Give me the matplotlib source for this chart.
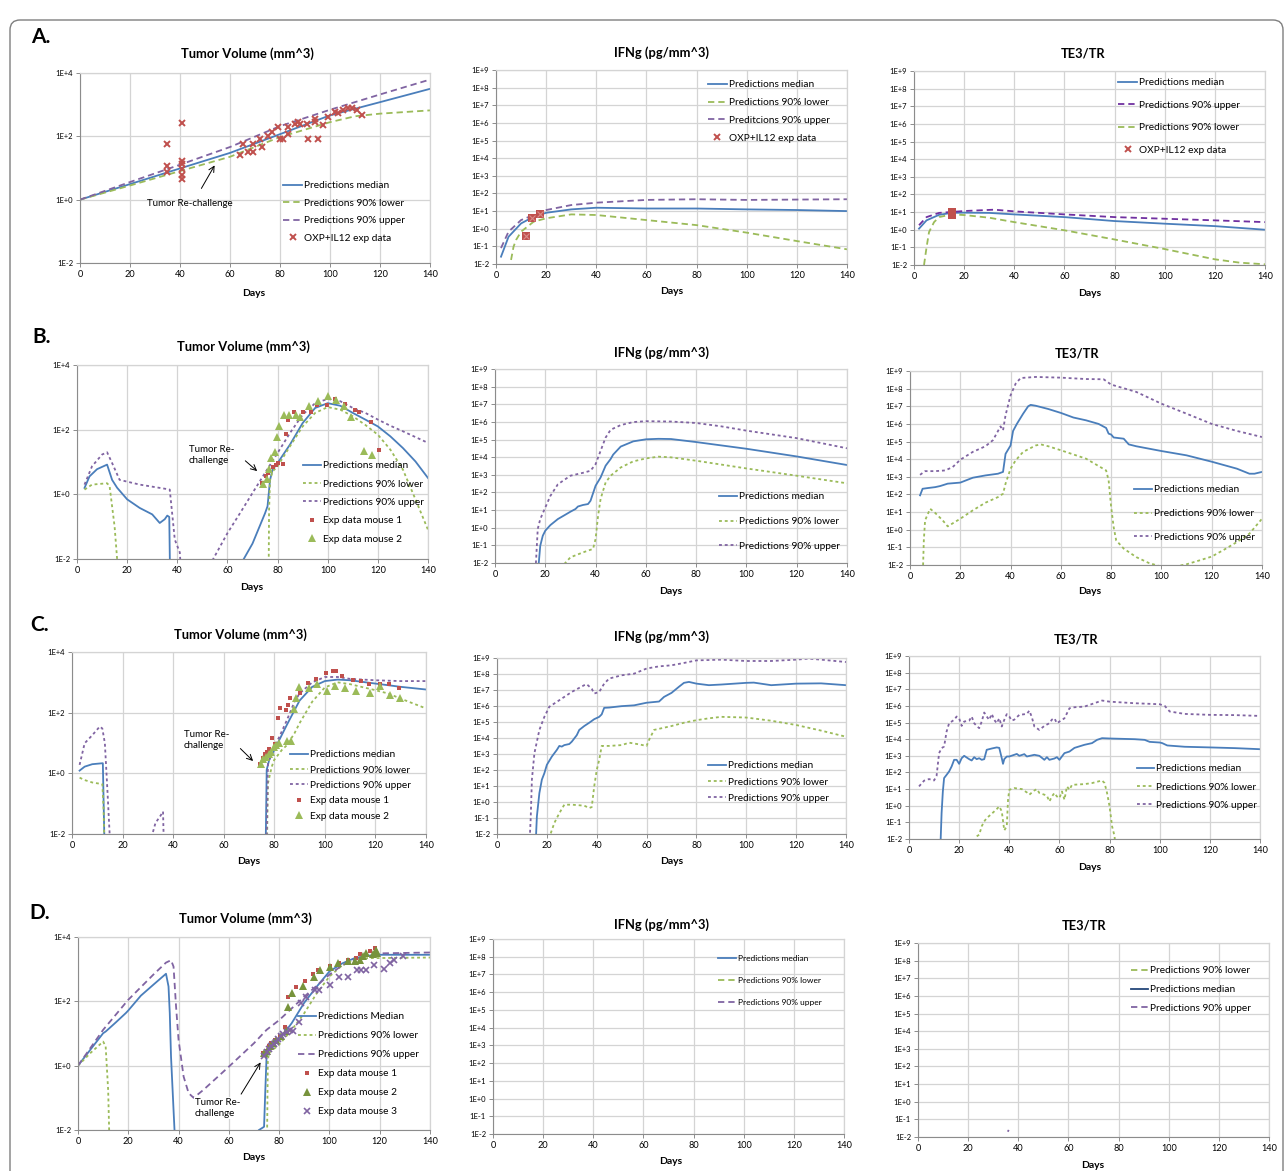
import numpy as np
import matplotlib
matplotlib.use("Agg")
import matplotlib.pyplot as plt
from matplotlib.patches import FancyBboxPatch
from matplotlib.ticker import FuncFormatter, NullLocator
from matplotlib.transforms import IdentityTransform

plt.rcParams["font.family"] = ["Lato", "DejaVu Sans"]

nan = np.nan

# ---------------- A: OXP + IL12 ----------------
A_TV_DAY = [0, 20, 40, 60, 80, 100, 120, 140]
A_TV_MED = [1, 3.1, 9.7, 30, 117, 460, 1200, 3160]
A_TV_UP = [1, 3.6, 12.7, 46, 210, 690, 2100, 6200]
A_TV_LO_DAY = [0, 20, 40, 60, 80, 100, 110, 120, 140]
A_TV_LO = [1, 2.8, 8, 22.6, 95, 280, 430, 520, 660]
A_TV_EXP_DAY = [34.7, 40.7, 34.7, 34.7, 40.7, 40.7, 40.7, 40.7, 40.7, 64, 65, 67.3,
                69.3, 69.3, 72.7, 72, 75.3, 76.7, 79.3, 80, 81, 83.3, 83.3, 86, 87,
                88, 90.7, 91.3, 94, 94, 95.3, 97.3, 99.3, 102, 103.3, 105.3, 107.3,
                108.7, 110.7, 112.7]
A_TV_EXP = [56, 270, 11.5, 7.5, 17, 13, 9.5, 5.9, 4.6, 26, 56, 32, 32, 56, 46, 85,
            100, 138, 200, 85, 85, 120, 200, 250, 280, 250, 250, 85, 360, 280, 85,
            220, 400, 590, 550, 670, 800, 760, 670, 460]

A_IFN_MED_DAY = [2, 5, 10, 15, 20, 30, 40, 60, 80, 100, 120, 140]
A_IFN_MED = [0.026, 0.35, 2, 4.8, 8, 12.5, 15.5, 14, 14, 12.5, 11.5, 10]
A_IFN_UP_DAY = [2, 5, 10, 15, 20, 30, 40, 60, 80, 100, 120, 140]
A_IFN_UP = [0.08, 0.68, 3.1, 6, 11.5, 22, 30, 43, 47, 43, 45, 47]
A_IFN_LO_DAY = [6, 7, 8, 10, 15, 20, 30, 40, 60, 80, 100, 120, 140]
A_IFN_LO = [0.017, 0.096, 0.23, 0.68, 2.5, 3.9, 6.5, 6, 3.1, 1.6, 0.6, 0.2, 0.068]
A_IFN_EXP_DAY = [12, 14.4, 17.5]
A_IFN_EXP = [0.39, 4, 6.8]

A_TE_MED_DAY = [2, 5, 10, 15, 20, 30, 40, 60, 80, 100, 120, 140]
A_TE_MED = [1.15, 3.4, 7, 9, 9.3, 9, 7.4, 5.2, 3.1, 2.2, 1.6, 1.0]
A_TE_UP_DAY = [2, 5, 10, 20, 32, 40, 60, 80, 100, 120, 140]
A_TE_UP = [1.8, 5.2, 9, 11.5, 13.7, 11, 7.4, 5.2, 4.2, 3.4, 2.7]
A_TE_LO_DAY = [4, 5, 6, 8, 10, 15, 20, 30, 40, 60, 80, 100, 120, 130, 140]
A_TE_LO = [0.01, 0.1, 0.74, 2.7, 5.2, 7.4, 6.8, 4.8, 2.7, 0.93, 0.28, 0.08, 0.021,
           0.0135, 0.011]
A_TE_EXP_DAY = [15, 15, 15, 15]
A_TE_EXP = [6.5, 7.5, 9, 10]

# ---------------- B ----------------
B_TV_MED_DAY = [3, 5, 8, 12, 14, 16, 20, 25, 30, 33, 35, 36, 36.8, 37.2, nan,
                65.8, 70, 75, 76, 77, 78, 80, 85, 90, 95, 100, 105, 110, 115, 120,
                125, 130, 135, 140]
B_TV_MED = [1.58, 3.6, 6, 8.3, 2.8, 1.6, 0.7, 0.38, 0.24, 0.13, 0.17, 0.22, 0.2,
            1e-3, nan, 0.008, 0.03, 0.26, 0.43, 2.8, 5.8, 9.3, 35, 160, 470, 660,
            550, 330, 205, 126, 62, 27, 10.4, 3.2]
B_TV_UP_DAY = [3, 6, 10, 12, 14, 17, 25, 36, 37, 39, 41, 42, nan, 54, 60, 65, 70,
               75, 80, 85, 90, 95, 100, 105, 110, 115, 120, 125, 130, 135, 140]
B_TV_UP = [2, 7.4, 17, 20, 9.3, 2.8, 2, 1.45, 1.4, 0.04, 0.016, 1e-3, nan, 0.009,
           0.063, 0.26, 1.1, 4.6, 19, 80, 290, 660, 890, 760, 470, 330, 205, 132,
           89, 59, 39]
B_TV_LO_DAY = [3, 6, 12, 13, 15, 17, nan, 76.4, 76.6, 77, 78, 80, 85, 90, 95, 100,
               105, 110, 115, 120, 125, 130, 135, 140]
B_TV_LO = [1.4, 2, 2.2, 1.8, 0.1, 1e-3, nan, 1e-3, 0.3, 2.8, 5.1, 7.4, 31, 126,
           330, 500, 415, 260, 140, 70, 24, 5.8, 0.7, 0.08]
B_M1_DAY = [73.6, 75.2, 76.3, 78.2, 79.2, 80.2, 82.2, 83.2, 84, 86.5, 90.2, 93.5,
            95.9, 99.9, 102.8, 106.9, 110.9, 112.5, 117.1, 120.3]
B_M1 = [2.2, 3.6, 4.6, 6.9, 7.8, 9.3, 8.9, 76, 205, 350, 350, 350, 590, 600, 890,
        610, 400, 360, 175, 24]
B_M2_DAY = [74, 75.6, 76.5, 77.3, 78.9, 79.6, 80.5, 82.6, 84.5, 87.3, 89.1, 92.6,
            96.2, 100.1, 103.4, 106.5, 109.4, 114.3, 117.5]
B_M2 = [2.1, 3.0, 6.2, 13, 20, 59, 132, 275, 275, 275, 240, 550, 760, 1120, 830,
        550, 245, 22, 17]

B_IFN_MED_DAY = [16.8, 18, 19, 20, 22, 25, 28, 30, 32, 33, 35, 37, 38, 40, 42, 44,
                 46, 47, 50, 55, 60, 65, 70, 80, 100, 120, 140]
B_IFN_MED = [1e-3, 0.095, 0.35, 0.68, 1.4, 3.1, 5.5, 8.1, 11.5, 16, 19.5, 22, 34,
             240, 710, 3300, 7900, 1.4e4, 4e4, 7.9e4, 1.03e5, 1.1e5, 1.07e5, 7.2e4,
             3e4, 1.1e4, 3.6e3]
B_IFN_UP_DAY = [15.9, 17, 18, 20, 22, 25, 28, 30, 35, 38, 40, 42, 44, 46, 50, 55,
                60, 70, 80, 90, 100, 120, 140]
B_IFN_UP = [1e-3, 0.85, 3.1, 14, 63, 290, 570, 890, 1300, 1700, 4000, 2.3e4,
            1.3e5, 3.6e5, 6.6e5, 9.8e5, 1.1e6, 1.05e6, 8.7e5, 5.6e5, 3.2e5, 1.2e5,
            3.2e4]
B_IFN_LO_DAY = [26, 30, 35, 39, 40, 41, 42, 44, 46, 50, 55, 60, 65, 70, 80, 100,
                120, 140]
B_IFN_LO = [0.005, 0.021, 0.04, 0.063, 0.23, 4.8, 43, 370, 890, 2600, 5800, 8500,
            1.07e4, 9800, 6300, 2300, 890, 330]

B_TE_MED_DAY = [4, 5, 7, 10, 12, 15, 20, 25, 30, 35, 37, 38, 40, 41, 42.5, 45, 47,
                48, 50, 55, 60, 65, 70, 75, 78, 79, 80, 81, 85, 87, 90, 100, 110,
                120, 130, 135, 137, 140]
B_TE_MED = [89, 210, 230, 260, 300, 410, 470, 890, 1200, 1500, 1900, 2e4, 6e4,
            4e5, 1e6, 3.8e6, 1e7, 1.2e7, 1.07e7, 7e6, 4.2e6, 2.3e6, 1.6e6, 1e6,
            5.9e5, 2.8e5, 2.5e5, 1.7e5, 1.45e5, 6.9e4, 5.4e4, 2.9e4, 1.65e4, 7.2e3,
            2.9e3, 1.5e3, 1.5e3, 1.9e3]
B_TE_UP_DAY = [4, 6, 10, 14, 17, 20, 25, 30, 33, 36, 37, 38, 40, 42, 44, 50, 60,
               70, 77, 80, 90, 100, 110, 120, 130, 140]
B_TE_UP = [1300, 2100, 2100, 2300, 3600, 9300, 2.6e4, 5.4e4, 1.2e5, 7.2e5, 4.3e5,
           3.1e6, 4.2e7, 1.9e8, 4e8, 4.6e8, 4.2e8, 3.5e8, 3.4e8, 1.7e8, 6.5e7,
           1.4e7, 3.8e6, 1e6, 4e5, 1.8e5]
B_TE_LO_DAY = [5, 5.5, 6, 8, 10, 13, 15, 20, 25, 30, 35, 37, 38, 40, 42, 45, 50,
               52, 55, 60, 70, 78, 79, 80, 81, 82, 85, 90, 95, 100, 105, 110, 115,
               120, 125, 130, 135, 140]
B_TE_LO = [1e-3, 0.25, 3.4, 15.5, 9, 3.4, 1.55, 4.2, 12.6, 34, 71, 110, 410, 2900,
           8500, 2.6e4, 6e4, 6.9e4, 5.4e4, 3.2e4, 1.07e4, 2300, 630, 19.5, 1.4,
           0.25, 0.085, 0.028, 0.013, 0.008, 0.008, 0.011, 0.018, 0.03, 0.075, 0.2,
           0.6, 4.2]

# ---------------- C ----------------
C_TV_MED_DAY = [3, 5, 8, 12, 12.2, 13, nan, 76.5, 77, 78, 80, 85, 90, 95, 100, 105,
                110, 120, 130, 140]
C_TV_MED = [1.23, 1.66, 2, 2.15, 2.15, 1e-3, nan, 1e-3, 1.3, 2.8, 5.9, 40, 250,
            710, 1100, 1230, 1170, 910, 710, 580]
C_TV_UP_DAY = [3, 5, 8, 11, 12, 13, 14, 15.5, nan, 30.8, 33, 35, 36, 36.5, nan,
               76.8, 77.5, 80, 82, 85, 88, 90, 95, 100, 105, 110, 120, 130, 140]
C_TV_UP = [1.9, 9.8, 18, 35, 30, 9.8, 0.28, 1e-3, nan, 0.005, 0.023, 0.04, 0.055,
           1e-3, nan, 1e-3, 2.15, 7.6, 16, 57, 230, 430, 1000, 1500, 1500, 1300,
           1170, 1100, 1100]
C_TV_LO_DAY = [3, 5, 8, 12, 12.5, 13, nan, 77, 77.5, 79, 80, 83, 85, 88, 90, 95,
               100, 105, 110, 120, 125, 130, 135, 140]
C_TV_LO = [0.72, 0.6, 0.5, 0.44, 0.063, 1e-3, nan, 1e-3, 0.47, 1.66, 2.8, 5.9, 8.5,
           21, 45, 230, 680, 1000, 870, 550, 430, 290, 200, 138]
C_M1_DAY = [74.4, 75.4, 76.4, 77, 78.1, 79.1, 80.3, 81.4, 82.3, 84.5, 85.5, 86.3,
            90, 93.3, 96.3, 100.3, 103.2, 104.4, 106.7, 111.1, 114.3, 117.6, 121.7,
            125.5, 129.5]
C_M1 = [2.1, 3.2, 4.4, 5.1, 6.2, 15, 9.1, 66, 141, 120, 185, 295, 430, 960, 1300,
        2000, 2400, 2400, 1600, 1170, 1100, 850, 850, 850, 640]
C_M2_DAY = [74.6, 75.7, 76.8, 77.8, 78.6, 79.7, 80.6, 82, 84.9, 86.7, 87.6, 88.6,
            89.8, 93.8, 96.8, 100.8, 104.1, 107.8, 112.4, 118, 121.9, 125.9, 129.9]
C_M2 = [2, 2.9, 3.5, 4.4, 5.1, 7.6, 8.5, 10.2, 12, 12, 128, 295, 680, 660, 910,
        510, 780, 660, 510, 430, 760, 380, 316]

C_IFN_MED_DAY = [15.4, 16, 17, 18, 19, 20, 22, 24, 25, 26, 27, 29, 30, 32, 33, 35,
                 37, 39, 41, 42, 43, 45, 50, 55, 60, 65, 67, 70, 73, 75, 77, 80,
                 85, 90, 100, 103, 110, 120, 130, 140]
C_IFN_MED = [1e-3, 0.126, 3.6, 25, 63, 210, 690, 1800, 3200, 2900, 3600, 4200,
             5900, 1.5e4, 3.2e4, 5.6e4, 9e4, 1.5e5, 2.1e5, 3e5, 7.7e5, 8e5, 9.8e5,
             1.1e6, 1.6e6, 1.9e6, 3.7e6, 6.6e6, 1.6e7, 2.8e7, 3.2e7, 2.5e7, 2e7,
             2.2e7, 2.8e7, 2.9e7, 2e7, 2.5e7, 2.6e7, 2e7]
C_IFN_UP_DAY = [12.9, 13.5, 14, 15, 17, 19, 21, 25, 30, 35, 36, 38, 39, 41, 43, 45,
                50, 55, 60, 65, 70, 75, 80, 90, 100, 110, 120, 125, 130, 140]
C_IFN_UP = [1e-3, 0.08, 25, 1100, 3.2e4, 2.1e5, 9e5, 2.3e6, 7.6e6, 2e7, 2.3e7,
            1.2e7, 6e6, 7.6e6, 2.5e7, 5.2e7, 8.3e7, 1.05e8, 2.2e8, 3e8, 3.5e8,
            4.9e8, 7.1e8, 7.9e8, 6.5e8, 6.5e8, 7.9e8, 9.1e8, 7.9e8, 5.6e8]
C_IFN_LO_DAY = [20.8, 23, 25, 27, 30, 35, 37, 38, 39, 40, 41, 42, 45, 50, 53, 57,
                60, 61, 63, 70, 75, 80, 85, 90, 100, 110, 120, 130, 140]
C_IFN_LO = [0.005, 0.049, 0.2, 0.68, 0.68, 0.59, 0.42, 0.48, 9.5, 100, 430, 3200,
            3200, 3600, 5100, 4000, 3200, 7600, 3.2e4, 5.6e4, 9e4, 1.3e5, 1.7e5,
            2.1e5, 1.9e5, 1.2e5, 6.5e4, 2.9e4, 1.2e4]

C_TE_MED_DAY = [12.4, 13, 13.5, 14, 15, 16, 17, 18, 19, 20, 21, 22, 24, 25, 26, 27,
                28, 29, 30, 31, 33, 35, 36, 37, 37.5, 38, 39, 40, 42, 43, 44, 46,
                47, 50, 52, 54, 55, 56, 58, 59, 60, 62, 64, 66, 70, 73, 75, 77, 80,
                90, 94, 96, 100, 101, 103, 110, 120, 130, 140]
C_TE_MED = [1e-3, 0.36, 7.2, 46, 72, 115, 230, 575, 575, 330, 720, 1000, 630, 525,
            830, 630, 720, 575, 630, 2300, 2750, 3200, 3000, 720, 330, 630, 910,
            910, 1150, 1300, 1000, 1260, 910, 1150, 1000, 575, 830, 575, 690, 830,
            575, 1450, 1800, 3000, 4600, 5800, 9100, 1.15e4, 1.1e4, 1e4, 9100,
            6900, 6300, 5800, 4200, 3500, 3200, 2900, 2500]
C_TE_UP_DAY = [4, 6, 8, 10, 11, 12, 13, 14, 15, 16, 18, 19, 20, 21, 22, 24, 25, 26,
               27, 28, 29, 30, 31, 32, 33, 34, 35, 36, 37, 38, 39, 40, 41, 42, 44,
               47, 48, 49, 50, 52, 54, 56, 57, 58, 59, 60, 62, 64, 66, 70, 73, 77,
               80, 90, 100, 102, 104, 110, 120, 130, 140]
C_TE_UP = [14.5, 32, 40, 33, 63, 1450, 2900, 3600, 2.9e4, 9.1e4, 1.45e5, 2.3e5,
           1.8e5, 6.3e4, 1.15e5, 1.3e5, 2.3e5, 9.1e4, 6.3e4, 4.6e4, 1.15e5, 4e5,
           2.3e5, 1.45e5, 3.3e5, 1.45e5, 9.1e4, 1.8e5, 5.8e4, 1.45e5, 3.2e5,
           2.3e5, 1.3e5, 1.5e5, 2.9e5, 3.3e5, 5.2e5, 2.1e5, 5.8e4, 3.6e4, 6.3e4,
           9.1e4, 1.5e5, 1.8e5, 9.1e4, 1.15e5, 1.8e5, 7.2e5, 8.3e5, 9.1e5, 1.3e6,
           2.1e6, 1.8e6, 1.45e6, 1.26e6, 1e6, 4.6e5, 3.3e5, 2.9e5, 2.8e5, 2.5e5]
C_TE_LO_DAY = [27, 28, 29, 30, 31, 33, 35, 36, 37, 38, 39, 39.5, 40, 42, 45, 47,
               48, 50, 51, 52, 54, 55, 56, 57, 58, 59, 60, 61, 62, 63, 64, 65, 70,
               73, 77, 78, 79, 80, 81, 82, 82.5]
C_TE_LO = [0.0145, 0.018, 0.058, 0.115, 0.18, 0.33, 0.63, 0.91, 0.46, 0.033, 0.058,
           2.3, 9.1, 11.5, 10, 6.3, 4.6, 8.3, 10, 5.8, 4.6, 4, 1.8, 3.6, 5.8, 3.6,
           2.9, 7.2, 2.3, 14.5, 9.1, 18, 20, 23, 33, 23, 5.8, 0.91, 0.058, 0.0145,
           1e-3]

# ---------------- D ----------------
D_TV_MED_DAY = [0, 5, 10, 11, 15, 19, 20, 25, 30, 35, 36, 36.5, 37, 38, 39, nan,
                72, 74, 74.5, 75, 76, 80, 85, 90, 95, 100, 105, 110, 115, 120, 140]
D_TV_MED = [1, 3.2, 10.2, 11.5, 22, 43, 52, 150, 330, 720, 290, 43, 1.9, 0.042,
            1e-3, nan, 0.01, 0.0126, 0.17, 1.9, 3.1, 6.3, 21, 91, 290, 850, 1500,
            2200, 2600, 2800, 2800]
D_TV_UP_DAY = [0, 10, 20, 30, 35, 37, 38, 39, 40, 42, 44, 46, 50, 60, 70, 75, 80,
               90, 100, 105, 110, 115, 120, 140]
D_TV_UP = [1, 13, 112, 680, 1600, 1900, 1200, 69, 6.3, 0.46, 0.14, 0.1, 0.18, 0.93,
           5, 13, 26, 140, 680, 1300, 2000, 2700, 3100, 3300]
D_TV_LO_DAY = [0, 5, 10, 11, 12, 12.7, nan, 75.1, 75.5, 76, 80, 85, 90, 95, 100,
               105, 110, 115, 140]
D_TV_LO = [1, 2.5, 5.6, 4, 0.17, 1e-3, nan, 1e-3, 1.5, 2.5, 4.5, 13, 43, 180, 590,
           1300, 2000, 2200, 2300]
D_M1_DAY = [73.6, 75, 75.9, 76.9, 78.2, 80.2, 82.5, 83.7, 86.9, 90.2, 93.5, 95.5,
            100.1, 103.8, 107.4, 110.7, 112.3, 116.3, 118]
D_M1 = [2.5, 2.9, 4, 5, 6.3, 8.1, 15.5, 133, 270, 415, 720, 960, 1300, 1600, 1900,
        2200, 3000, 3700, 4600]
D_M2_DAY = [73.9, 75.3, 76.3, 77.6, 78.9, 80.9, 82.9, 83.7, 85.3, 89.3, 93.9, 96.2,
            100.1, 103.4, 107.4, 110.1, 112.1, 113.4, 114.5, 117.4, 118.4, 119]
D_M2 = [2.4, 2.9, 4, 5, 6.3, 8.5, 12.3, 69, 180, 310, 560, 910, 1170, 1550, 1800,
        1750, 1950, 2500, 3100, 3000, 4000, 3100]
D_M3_DAY = [73.9, 75.2, 76, 76.9, 77.9, 78.6, 79.7, 80.6, 81.6, 83.2, 84.2, 85.5,
            87.8, 88.6, 90.6, 94.2, 95.9, 100.1, 103.8, 107.4, 111, 112.7, 114.5,
            117.6, 121.6, 124, 125.7, 129.3]
D_M3 = [2, 2.6, 3.2, 4.1, 4.8, 5.6, 6.6, 8.1, 9.6, 11.5, 13, 12, 22, 87, 140, 230,
        230, 330, 590, 560, 910, 910, 910, 1380, 1000, 1550, 1900, 2500]

D_IFN_DAY = []
D_IFN_MED = []
D_IFN_LO = []
D_IFN_UP = []

D_TE_DAY = []
D_TE_MED = []
D_TE_LO = []
D_TE_UP_DAY = [35.8, 36.2]
D_TE_UP = [0.02, 0.025]

LBL_MED = "Predictions median"
LBL_LO = "Predictions 90% lower"
LBL_UP = "Predictions 90% upper"

BLUE = "#4a7ebb"
NAVY = "#24477a"
GREEN = "#9bbb59"
PURPLE = "#8064a2"
VIOLET = "#7030a0"
RED = "#c0504d"
GRID = "#d4d4d4"
AXIS = "#8c8c8c"

W, H = 1284, 1171
fig = plt.figure(figsize=(W / 100, H / 100), dpi=100)


def fx(px):
    return px / W


def fy(py):
    return 1 - py / H


def make_axes(rect, lo, hi, step):
    left, top, right, bottom = rect
    ax = fig.add_axes([fx(left), fy(bottom), (right - left) / W, (bottom - top) / H])
    ax.set_yscale("log")
    ax.set_xlim(0, 140)
    ax.set_ylim(10.0 ** lo, 10.0 ** hi)
    ax.set_xticks(range(0, 141, 20))
    ax.set_yticks([10.0 ** e for e in range(lo, hi + 1, step)])
    ax.yaxis.set_minor_locator(NullLocator())
    ax.yaxis.set_major_formatter(
        FuncFormatter(lambda v, p: f"1E{int(round(np.log10(v))):+d}"))
    ax.grid(True, color=GRID, lw=0.9)
    ax.set_axisbelow(True)
    for side in ("top", "right"):
        ax.spines[side].set_color(GRID)
        ax.spines[side].set_linewidth(0.9)
    for side in ("left", "bottom"):
        ax.spines[side].set_color(AXIS)
        ax.spines[side].set_linewidth(0.8)
    ax.tick_params(axis="both", direction="out", length=3, width=0.7, color=AXIS,
                   pad=2)
    ax.tick_params(axis="x", labelsize=6.6)
    ax.tick_params(axis="y", labelsize=5.5)
    return ax


def line(ax, days, vals, color, label, dashes=None, lw=1.3):
    kw = dict(color=color, lw=lw, label=label, clip_on=True)
    if dashes is not None:
        kw["dashes"] = dashes
    return ax.plot(days, vals, **kw)[0]


def pts(ax, days, vals, label, **kw):
    return ax.plot(days, vals, ls="none", label=label, **kw)[0]


def key(ax, handles, x0, y0, spacing, fs=7.3, hl_px=18):
    # x0: left end of the key lines, y0: centre of the first row (pixels)
    fs_px = fs * 100 / 72
    text_h = 0.92 * fs_px
    ax.legend(handles=handles, loc="upper left",
              bbox_to_anchor=(fx(x0), fy(y0 - text_h / 2)),
              bbox_transform=fig.transFigure, frameon=False, fontsize=fs,
              handlelength=hl_px / fs_px, handletextpad=0.2,
              labelspacing=(spacing - text_h) / fs_px, borderpad=0,
              borderaxespad=0, numpoints=1)


def label_text(x, y, s, **kw):
    fig.text(fx(x), fy(y), s, ha="center", va="center", **kw)


DASH = (3.5, 2.2)
DOT = (1.6, 1.6)

# ---------------- Row A ----------------
ax = make_axes((80, 73, 430, 263), -2, 4, 2)
h = [line(ax, A_TV_DAY, A_TV_MED, BLUE, LBL_MED),
     line(ax, A_TV_LO_DAY, A_TV_LO, GREEN, LBL_LO, DASH),
     line(ax, A_TV_DAY, A_TV_UP, PURPLE, LBL_UP, DASH),
     pts(ax, A_TV_EXP_DAY, A_TV_EXP, "OXP+IL12 exp data", marker="x", color=RED,
         ms=5, mew=1.4)]
key(ax, h, 283, 186, 17.7, hl_px=19)
ax.annotate("", xy=(54.4, 14.4), xytext=(48, 1.9),
            arrowprops=dict(arrowstyle="->", color="black", lw=0.7))
label_text(190, 203, "Tumor Re-challenge", fontsize=7)

exp_key = plt.Line2D([], [], ls="none", marker="x", color=RED, ms=5, mew=1.4,
                     label="OXP+IL12 exp data")

ax = make_axes((496, 70, 847, 264), -2, 9, 1)
h = [line(ax, A_IFN_MED_DAY, A_IFN_MED, BLUE, LBL_MED),
     line(ax, A_IFN_LO_DAY, A_IFN_LO, GREEN, LBL_LO, DASH),
     line(ax, A_IFN_UP_DAY, A_IFN_UP, PURPLE, "Preditcions 90% upper", DASH)]
pts(ax, A_IFN_EXP_DAY, A_IFN_EXP, None, marker="s", color=RED, ms=5.5, mew=0)
pts(ax, A_IFN_EXP_DAY, A_IFN_EXP, None, marker="x", color="#d98a88", ms=4, mew=0.8)
key(ax, h + [exp_key], 708, 85, 18, hl_px=19)

ax = make_axes((914, 71, 1265, 265), -2, 9, 1)
h_med = line(ax, A_TE_MED_DAY, A_TE_MED, BLUE, LBL_MED)
h_lo = line(ax, A_TE_LO_DAY, A_TE_LO, GREEN, LBL_LO, DASH)
h_up = line(ax, A_TE_UP_DAY, A_TE_UP, VIOLET, LBL_UP, DASH)
pts(ax, A_TE_EXP_DAY, A_TE_EXP, None, marker="s", color=RED, ms=5.5, mew=0)
key(ax, [h_med, h_up, h_lo, exp_key], 1118, 83, 22.6, hl_px=19)

# ---------------- Row B ----------------
ax = make_axes((77, 365, 428, 559), -2, 4, 2)
h = [line(ax, B_TV_MED_DAY, B_TV_MED, BLUE, LBL_MED),
     line(ax, B_TV_LO_DAY, B_TV_LO, GREEN, LBL_LO, DOT),
     line(ax, B_TV_UP_DAY, B_TV_UP, PURPLE, LBL_UP, DOT),
     pts(ax, B_M1_DAY, B_M1, "Exp data mouse 1", marker="s", color=RED, ms=2.8,
         mew=0),
     pts(ax, B_M2_DAY, B_M2, "Exp data mouse 2", marker="^", color=GREEN, ms=5.5,
         mew=0)]
key(ax, h, 303, 466, 18.5)
ax.annotate("", xy=(72.7, 4.6), xytext=(66.3, 12.4),
            arrowprops=dict(arrowstyle="->", color="black", lw=0.7))
fig.text(fx(189), fy(455), "Tumor Re-\nchallenge", ha="left", va="center",
         fontsize=7, linespacing=1.3)

ax = make_axes((495, 369, 847, 563), -2, 9, 1)
h = [line(ax, B_IFN_MED_DAY, B_IFN_MED, BLUE, LBL_MED),
     line(ax, B_IFN_LO_DAY, B_IFN_LO, GREEN, LBL_LO, DOT),
     line(ax, B_IFN_UP_DAY, B_IFN_UP, PURPLE, LBL_UP, DOT)]
key(ax, h, 719, 497, 25)

ax = make_axes((910, 371, 1262, 565), -2, 9, 1)
h = [line(ax, B_TE_MED_DAY, B_TE_MED, BLUE, LBL_MED),
     line(ax, B_TE_LO_DAY, B_TE_LO, GREEN, LBL_LO, DOT),
     line(ax, B_TE_UP_DAY, B_TE_UP, PURPLE, LBL_UP, DOT)]
key(ax, h, 1134, 490, 24)

# ---------------- Row C ----------------
ax = make_axes((72, 652, 426, 834), -2, 4, 2)
h = [line(ax, C_TV_MED_DAY, C_TV_MED, BLUE, LBL_MED),
     line(ax, C_TV_LO_DAY, C_TV_LO, GREEN, LBL_LO, DOT),
     line(ax, C_TV_UP_DAY, C_TV_UP, PURPLE, LBL_UP, DOT),
     pts(ax, C_M1_DAY, C_M1, "Exp data mouse 1", marker="s", color=RED, ms=3,
         mew=0),
     pts(ax, C_M2_DAY, C_M2, "Exp data mouse 2", marker="^", color=GREEN, ms=5.5,
         mew=0)]
key(ax, h, 290, 755, 15.5)
ax.annotate("", xy=(72.4, 2.2), xytext=(65.8, 7.6),
            arrowprops=dict(arrowstyle="->", color="black", lw=0.7))
fig.text(fx(184), fy(740), "Tumor Re-\nchallenge", ha="left", va="center",
         fontsize=7, linespacing=1.3)

ax = make_axes((497, 658, 846, 834), -2, 9, 1)
h = [line(ax, C_IFN_MED_DAY, C_IFN_MED, BLUE, LBL_MED),
     line(ax, C_IFN_LO_DAY, C_IFN_LO, GREEN, LBL_LO, DOT),
     line(ax, C_IFN_UP_DAY, C_IFN_UP, PURPLE, LBL_UP, DOT)]
key(ax, h, 708, 766, 16.5)

ax = make_axes((909, 656, 1260, 839), -2, 9, 1)
h = [line(ax, C_TE_MED_DAY, C_TE_MED, BLUE, LBL_MED),
     line(ax, C_TE_LO_DAY, C_TE_LO, GREEN, LBL_LO, DOT),
     line(ax, C_TE_UP_DAY, C_TE_UP, PURPLE, LBL_UP, DOT)]
key(ax, h, 1137, 769, 18.5, hl_px=17)

# ---------------- Row D ----------------
ax = make_axes((78, 937, 430, 1130), -2, 4, 2)
h = [line(ax, D_TV_MED_DAY, D_TV_MED, BLUE, "Predictions Median"),
     line(ax, D_TV_LO_DAY, D_TV_LO, GREEN, LBL_LO, DOT),
     line(ax, D_TV_UP_DAY, D_TV_UP, PURPLE, LBL_UP, DASH),
     pts(ax, D_M1_DAY, D_M1, "Exp data mouse 1", marker="s", color=RED, ms=2.8,
         mew=0),
     pts(ax, D_M2_DAY, D_M2, "Exp data mouse 2", marker="^", color="#77933c",
         ms=5.5, mew=0),
     pts(ax, D_M3_DAY, D_M3, "Exp data mouse 3", marker="x", color=PURPLE, ms=5,
         mew=1.2)]
key(ax, h, 298, 1017, 19.2)
ax.annotate("", xy=(73.2, 1.5), xytext=(64.3, 0.11),
            arrowprops=dict(arrowstyle="->", color="black", lw=0.7))
fig.text(fx(195), fy(1108), "Tumor Re-\nchallenge", ha="left", va="center",
         fontsize=7, linespacing=1.3,
         bbox=dict(facecolor="white", edgecolor="none", pad=0.5))

ax = make_axes((493, 939, 844, 1134), -2, 9, 1)
h = [line(ax, D_IFN_DAY, D_IFN_MED, BLUE, LBL_MED),
     line(ax, D_IFN_DAY, D_IFN_LO, GREEN, LBL_LO, DASH),
     line(ax, D_IFN_DAY, D_IFN_UP, PURPLE, LBL_UP, DASH)]
key(ax, h, 718, 959, 22.5, fs=6.0)

ax = make_axes((918, 943, 1269, 1137), -2, 9, 1)
h_lo = line(ax, D_TE_DAY, D_TE_LO, GREEN, LBL_LO, DASH)
h_med = line(ax, D_TE_DAY, D_TE_MED, NAVY, LBL_MED)
h_up = line(ax, D_TE_UP_DAY, D_TE_UP, PURPLE, LBL_UP, DASH)
key(ax, [h_lo, h_med, h_up], 1131, 971, 19, hl_px=17)

# ---------------- titles, axis labels, row tags ----------------
TITLE_POS = [("Tumor Volume (mm^3)", 247, 54), ("IFNg (pg/mm^3)", 662, 53),
             ("TE3/TR", 1083, 54),
             ("Tumor Volume (mm^3)", 243, 347), ("IFNg (pg/mm^3)", 662, 353),
             ("TE3/TR", 1077, 354),
             ("Tumor Volume (mm^3)", 240, 635), ("IFNg (pg/mm^3)", 662, 637),
             ("TE3/TR", 1076, 639),
             ("Tumor Volume (mm^3)", 245, 919), ("IFNg (pg/mm^3)", 662, 925),
             ("TE3/TR", 1084, 926)]
for s, x, y in TITLE_POS:
    label_text(x, y, s, fontsize=9.3, fontweight="bold")

DAYS_POS = [(254, 294), (672, 291), (1090, 293), (252, 587), (671, 591),
            (1090, 592), (249, 862), (672, 862), (1090, 867), (254, 1158),
            (671, 1161), (1093, 1165)]
for x, y in DAYS_POS:
    label_text(x, y, "Days", fontsize=7.5, fontweight="bold")

for s, x, y in [("A.", 41, 37), ("B.", 42, 337), ("C.", 40, 625), ("D.", 40, 913)]:
    label_text(x, y, s, fontsize=15, fontweight="bold")

# outer frame
frame = FancyBboxPatch((10, -20), 1273, H - 10 + 20 - 10,
                       boxstyle="round,pad=0,rounding_size=10",
                       transform=IdentityTransform(), facecolor="none",
                       edgecolor="#7f7f7f", lw=1.0)
fig.patches.append(frame)

fig.savefig("out.png", dpi=100)
